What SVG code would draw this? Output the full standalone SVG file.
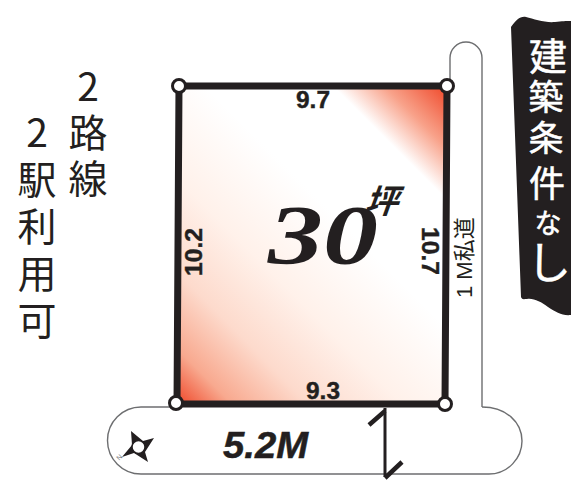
<svg xmlns="http://www.w3.org/2000/svg" width="571" height="480" viewBox="0 0 571 480">
<style>
.road{fill:none;stroke:#6d6e70;stroke-width:1.4}
.lot{fill:none;stroke:#231f20;stroke-width:7;stroke-linejoin:miter}
.pt{fill:#fff;stroke:#231f20;stroke-width:3}
.dim{font-family:"Liberation Sans",Arial,sans-serif;font-weight:700;font-size:23px;fill:#231f20;stroke:#231f20;stroke-width:.4}
.cjk{font-family:"Noto Sans CJK JP",sans-serif;fill:#231f20;font-size:39px;text-anchor:middle}
</style>
<defs>
<linearGradient id="g1" gradientUnits="userSpaceOnUse" x1="447" y1="86" x2="390" y2="143">
<stop offset="0" stop-color="#ef4628"/><stop offset="0.55" stop-color="#f8a28a"/><stop offset="1" stop-color="#fff"/>
</linearGradient>
<linearGradient id="g2" gradientUnits="userSpaceOnUse" x1="177" y1="404" x2="350" y2="231">
<stop offset="0" stop-color="#ef4628"/><stop offset="0.16" stop-color="#f8a98f"/><stop offset="0.38" stop-color="#fddacc"/><stop offset="0.65" stop-color="#fff1ea"/><stop offset="1" stop-color="#fff"/>
</linearGradient>
</defs>
<g id="roads">
<path class="road" d="M450 86V58A16 16 0 0 1 482 58V407"/>
<path class="road" d="M176 407H141A33.500 33.500 0 0 0 141 474H489C508 474 522 458 522 441C522 422 506 407 482 407"/>
</g>
<g id="lot">
<polygon points="179,86 447,86 445,404 177,404" fill="url(#g2)"/>
<polygon points="333,86 447,86 445,198" fill="url(#g1)"/>
<polygon class="lot" points="179,86 447,86 445,404 177,404"/>
<circle class="pt" cx="179" cy="86" r="6.500"/>
<circle class="pt" cx="447" cy="86" r="6.500"/>
<circle class="pt" cx="176" cy="403" r="6.500"/>
<circle class="pt" cx="445" cy="404" r="6.500"/>
</g>
<g id="dimensions">
<text class="dim" x="296" y="108" textLength="34" lengthAdjust="spacingAndGlyphs">9.7</text>
<text class="dim" x="306" y="399" textLength="34" lengthAdjust="spacingAndGlyphs">9.3</text>
<text class="dim" transform="translate(202 276) rotate(-90)" textLength="48" lengthAdjust="spacingAndGlyphs">10.2</text>
<text class="dim" transform="translate(422 227) rotate(90)" textLength="48" lengthAdjust="spacingAndGlyphs">10.7</text>
</g>
<g id="area">
<text font-family="Liberation Serif,serif" font-weight="700" font-style="italic" font-size="84" fill="#231f20" x="268" y="264" textLength="110" lengthAdjust="spacingAndGlyphs">30</text>
<text font-family="Noto Sans CJK JP,sans-serif" font-weight="700" font-size="33" fill="#231f20" transform="translate(364 213) skewX(-20)">坪</text>
</g>
<g id="road-labels">
<text font-family="Liberation Sans,Noto Sans CJK JP,sans-serif" font-size="22" fill="#231f20" transform="translate(472 298) rotate(-90)">1 M私道</text>
<text font-family="Liberation Sans,sans-serif" font-weight="700" font-style="italic" font-size="36" fill="#231f20" stroke="#231f20" stroke-width=".5" x="223" y="458" textLength="85" lengthAdjust="spacingAndGlyphs">5.2M</text>
</g>
<g id="section-mark" fill="none" stroke="#231f20">
<path d="M385 408V477" stroke-width="3"/>
<path d="M369 425L385 411M385 478L402 462" stroke-width="4.500"/>
</g>
<g id="compass">
<path d="M131 431L143 441L154 438L145 452L148 462L134 453L122 457L132 445Z" fill="#231f20"/>
<circle cx="138.500" cy="447" r="6.500" fill="#fff" stroke="#231f20" stroke-width="1.500"/>
<text font-family="Liberation Sans,sans-serif" font-size="7" fill="#6d6e70" text-anchor="middle" transform="translate(121 459) rotate(-45)">N</text>
</g>
<g id="stations">
<text class="cjk" x="88 88 88" y="101 147 193">2路線</text>
<text class="cjk" x="37 37 37 37 37" y="147 194 241 288 335">2駅利用可</text>
</g>
<g id="banner">
<path d="M511 27C516 20 520 16 526 17C534 19 545 23 555 22C562 21 566 21 571 21V315C562 316 556 312 548 307C541 302 534 298 527 299C524 299 522 300 521 297Z" fill="#231f20"/>
<text font-family="Noto Sans CJK JP,sans-serif" fill="#fff" stroke="#fff" stroke-width=".5" text-anchor="middle"><tspan font-size="38" x="548" y="70">建</tspan><tspan font-size="35" x="546" y="110">築</tspan><tspan font-size="35" x="546" y="151">条</tspan><tspan font-size="36" x="547" y="197">件</tspan><tspan font-size="27" x="548" y="233">な</tspan><tspan font-size="44" x="549" y="279">し</tspan></text>
</g>
</svg>
